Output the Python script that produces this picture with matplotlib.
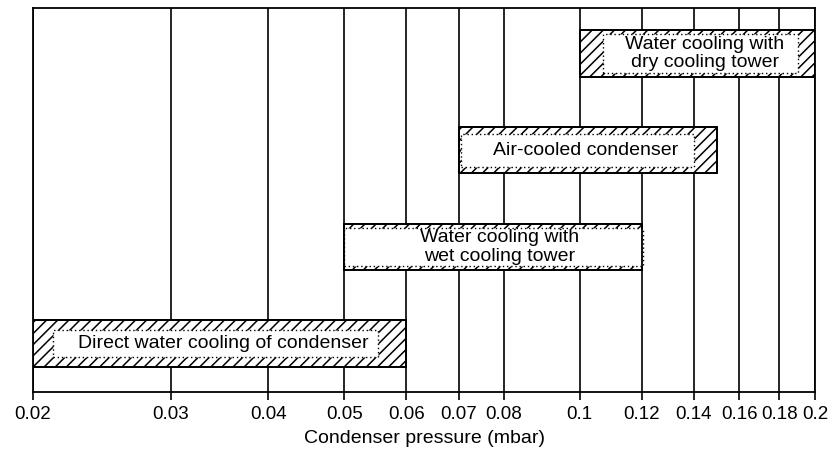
import matplotlib
matplotlib.use("Agg")
import matplotlib.pyplot as plt
from matplotlib.patches import Rectangle
from matplotlib import font_manager

names = {f.name for f in font_manager.fontManager.ttflist}
fam = ['Liberation Sans Narrow'] if 'Liberation Sans Narrow' in names else ['Liberation Sans']
plt.rcParams['font.family'] = fam + ['DejaVu Sans']
plt.rcParams['hatch.linewidth'] = 1.1

# Data
labels = ["Direct water cooling of condenser",
          "Water cooling with\nwet cooling tower",
          "Air-cooled condenser",
          "Water cooling with\ndry cooling tower"]
bar_start = [0.02, 0.05, 0.07, 0.10]
bar_end = [0.06, 0.12, 0.15, 0.20]
inner_start = [0.0212, 0.0500, 0.0705, 0.107]
inner_end = [0.0552, 0.1204, 0.140, 0.190]
label_x = [0.0350, 0.0790, 0.1018, 0.1446]
rows = [0.5, 1.5, 2.5, 3.5]
tick_values = [0.02, 0.03, 0.04, 0.05, 0.06, 0.07, 0.08, 0.1, 0.12, 0.14, 0.16, 0.18, 0.2]
tick_labels = ["0.02", "0.03", "0.04", "0.05", "0.06", "0.07", "0.08", "0.1",
               "0.12", "0.14", "0.16", "0.18", "0.2"]
xlabel = "Condenser pressure (mbar)"

fig = plt.figure(figsize=(8.32, 4.55), dpi=100)
ax = fig.add_axes([0.0397, 0.1385, 0.94, 0.8439])
ax.set_xscale('log')
ax.set_xlim(0.02, 0.2)
ax.set_ylim(0, 3.97)

for v in tick_values:
    ax.axvline(v, color='black', lw=1.2, zorder=1)

bar_h = 0.48
inner_pad = [0.10, 0.04, 0.07, 0.04]
for i, (s, e, is_, ie, tx, r, lab) in enumerate(zip(bar_start, bar_end, inner_start,
                                                    inner_end, label_x, rows, labels)):
    ax.add_patch(Rectangle((s, r - bar_h / 2), e - s, bar_h, facecolor='white',
                           edgecolor='black', hatch='///', lw=1.3, zorder=2))
    ih = bar_h - 2 * inner_pad[i]
    ax.add_patch(Rectangle((is_, r - ih / 2), ie - is_, ih, facecolor='white',
                           edgecolor='black', ls=(0, (1, 2)), lw=1.0, zorder=3))
    ax.add_patch(Rectangle((s, r - bar_h / 2), e - s, bar_h, facecolor='none',
                           edgecolor='black', lw=1.3, zorder=4))
    ax.text(tx, r, lab, ha='center', va='center', fontsize=14, zorder=5,
            linespacing=1.12)

ax.set_xticks(tick_values)
ax.set_xticklabels(tick_labels, fontsize=13.5)
ax.minorticks_off()
ax.tick_params(axis='x', direction='out', length=6, width=1.2, pad=4)
ax.set_yticks([])
for sp in ax.spines.values():
    sp.set_linewidth(1.3)
ax.set_xlabel(xlabel, fontsize=14, labelpad=5)

fig.savefig("out.png", dpi=100)
